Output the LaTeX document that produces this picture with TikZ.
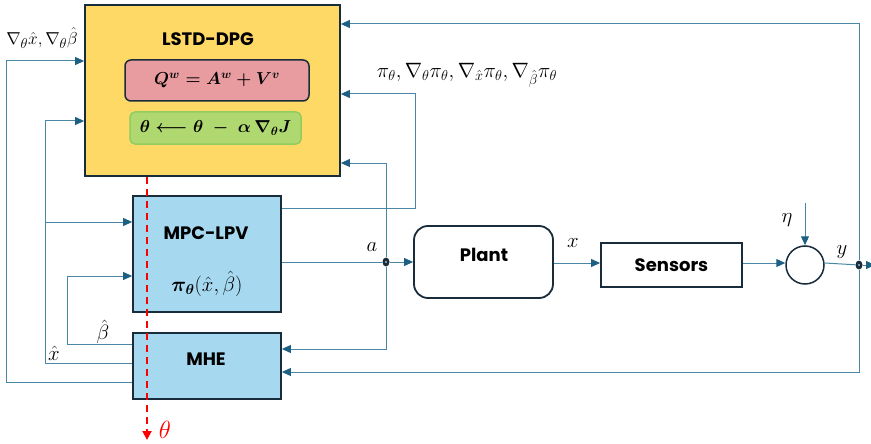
\documentclass[tikz,border=0pt]{standalone}
\usepackage{fontspec}
\setsansfont{Poppins}
\usepackage{amsmath}
\usepackage{amssymb}
\usetikzlibrary{arrows.meta,positioning,shapes.geometric}

\definecolor{lstdyellow}{RGB}{255,217,102}
\definecolor{qpink}{RGB}{232,156,160}
\definecolor{updgreen}{RGB}{176,216,112}
\definecolor{updedge}{RGB}{146,204,96}
\definecolor{ctrlblue}{RGB}{166,216,240}
\definecolor{boxline}{RGB}{24,44,60}
\definecolor{sigline}{RGB}{72,136,166}
\definecolor{sigtip}{RGB}{30,96,132}

\tikzset{
  blockbox/.style={draw=boxline, line width=1.8pt, minimum width=#1},
  boxtext/.style={font=\sffamily\bfseries\fontsize{18}{22}\selectfont},
  mathlbl/.style={font=\fontsize{20}{24}\selectfont, inner sep=0pt},
  letterlbl/.style={font=\fontsize{22}{26}\selectfont, inner sep=0pt},
  sig/.style={draw=sigline, line width=1pt},
  sigarrow/.style={sig, -{Triangle[length=9pt,width=8pt,color=sigtip]}},
  jdot/.style={ellipse, fill=boxline, minimum width=7pt, minimum height=9pt, inner sep=0pt,
    path picture={\fill[white] (path picture bounding box.center) circle (0.8pt);}}
}

\begin{document}
\begin{tikzpicture}[x=1pt, y=-1pt]
    \useasboundingbox (0,0) rectangle (871,444);

    % Draw the blocks
    \node[blockbox=255pt, minimum height=171pt, fill=lstdyellow] (lstd) at (212.5,90.5) {};
    \node[draw=boxline, line width=1.5pt, rounded corners=6pt, fill=qpink, minimum width=184pt, minimum height=41pt] (qbox) at (217,80.5) {};
    \node[draw=updedge, line width=1.5pt, rounded corners=5pt, fill=updgreen, minimum width=171pt, minimum height=32pt] (upd) at (215.5,128) {};
    \node[blockbox=148pt, minimum height=116pt, fill=ctrlblue] (mpc) at (207,254) {};
    \node[blockbox=148pt, minimum height=66pt, fill=ctrlblue] (mhe) at (207,366) {};
    \node[blockbox=139pt, minimum height=72pt, rounded corners=14pt] (plant) at (483.5,262) {};
    \node[blockbox=141pt, minimum height=44pt] (sensors) at (671.5,265) {};
    \node[circle, draw=boxline, line width=1.5pt, minimum size=38pt, inner sep=0pt] (sum) at (805,265) {};

    % Texts in the blocks
    \node[boxtext] (lstdname) at (208,39) {LSTD-DPG};
    \node[mathlbl, font=\fontsize{17}{20}\selectfont] (qeq) at (qbox) {$\boldsymbol{Q^{w} = A^{w} + V^{v}}$};
    \node[mathlbl, font=\fontsize{17}{20}\selectfont] (updeq) at (upd) {$\boldsymbol{\theta \longleftarrow \theta\ -\ \alpha\,\nabla_{\theta} J}$};
    \node[boxtext] (mpcname) at (206,233) {MPC-LPV};
    \node[mathlbl] (policy) at (207,284) {$\boldsymbol{\pi_{\theta}}(\hat{x},\hat{\beta})$};
    \node[boxtext] (mhename) at (206,359) {MHE};
    \node[boxtext] (plantname) at (484,255) {Plant};
    \node[boxtext] (sensorsname) at (sensors) {Sensors};

    % Junctions and free ends
    \node[jdot] (adot) at (386,262) {};
    \node[jdot] (ydot) at (859,265) {};
    \coordinate (etain) at (805,203);
    \coordinate (yout) at (875,265);
    \coordinate (fbtop) at (859,24);
    \coordinate (fbbot) at (859,372);
    \coordinate (thend) at (147,440);
    \coordinate (mpcin) at ([yshift=32pt]mpc.west);

    % Signal labels
    \node[mathlbl, font=\fontsize{19}{22}\selectfont] (gradlbl) at (42,38) {$\nabla_{\theta}\hat{x},\nabla_{\theta}\hat{\beta}$};
    \node[mathlbl] (pilbl) at (467,75) {$\pi_{\theta},\nabla_{\theta}\pi_{\theta},\nabla_{\hat{x}}\pi_{\theta},\nabla_{\hat{\beta}}\pi_{\theta}$};
    \node[letterlbl] (betalbl) at (103,332) {$\hat{\beta}$};
    \node[letterlbl] (xhatlbl) at (54,353) {$\hat{x}$};
    \node[letterlbl] (albl) at (372,247) {$a$};
    \node[letterlbl] (xlbl) at (573,243) {$x$};
    \node[letterlbl] (ylbl) at (842,252) {$y$};
    \node[letterlbl] (etalbl) at (787,220) {$\eta$};
    \node[letterlbl, font=\fontsize{24}{28}\selectfont, text=red] (thetalbl) at (165,430) {$\theta$};

    % Draw the arrows
    % outputs of the MHE
    \draw[sigarrow] ([yshift=-16pt]mhe.west) -- ++(-126,0) |- ([yshift=29.5pt]lstd.west);
    \draw[sigarrow] ([yshift=3pt]mhe.west) -- ++(-87,0) coordinate (xhatc) |- ([yshift=-30.5pt]lstd.west);
    \draw[sigarrow] (xhatc |- mpcin) -- (mpcin);
    \draw[sigarrow] ([yshift=22pt]mhe.west) -- ++(-65,0) |- ([yshift=-22pt]mpc.west);
    % outputs of the MPC
    \draw[sigarrow] ([yshift=46pt]mpc.east) -- ++(134,0) |- ([yshift=-3.5pt]lstd.east);
    \draw[sig] ([yshift=-8pt]mpc.east) -- (adot);
    \draw[sigarrow] (adot) -- (plant.west);
    \draw[sigarrow] (adot) |- ([yshift=-72.5pt]lstd.east);
    \draw[sigarrow] (adot) |- ([yshift=17pt]mhe.east);
    % plant, sensors and noise
    \draw[sigarrow] ([yshift=-1pt]plant.east) -- ([yshift=-1pt]plant.east -| sensors.west);
    \draw[sigarrow] ([yshift=2pt]sensors.east) -- ([yshift=2pt]sum.west);
    \draw[sigarrow] (etain) -- (sum.north);
    \draw[sig] ([yshift=2pt]sum.east) -- (ydot);
    \draw[sigarrow] (ydot) -- (yout);
    % feedback of y
    \draw[sigarrow] (ydot) -- (fbtop) -- (fbtop -| lstd.east);
    \draw[sigarrow] (ydot) -- (fbbot) -- (fbbot -| mhe.east);

    % theta goes out
    \draw[red, dashed, line width=2pt, dash pattern=on 7pt off 5pt, -{Triangle[length=9pt,width=9pt]}] (thend |- lstd.south) -- (thend);
\end{tikzpicture}
\end{document}
